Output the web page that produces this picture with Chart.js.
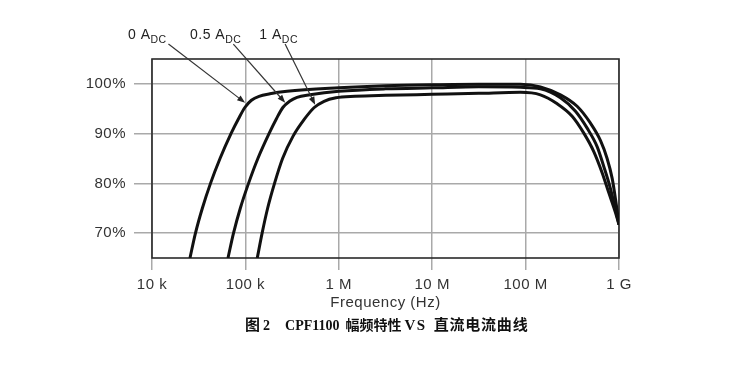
<!DOCTYPE html>
<html>
<head>
<meta charset="utf-8">
<script src="https://cdn.jsdelivr.net/npm/chart.js@4/dist/chart.umd.min.js"></script>
<style>
  html, body { margin: 0; padding: 0; background: #fff; }
  #wrap { position: relative; width: 731px; height: 375px; }
  #c { position: absolute; left: 0; top: 0; }
  #cap { position: absolute; left: 245px; top: 313px; white-space: pre; line-height: 18px; color: #111;
         font: bold 14px "Liberation Serif", "Noto Sans CJK SC", serif; }
  .zh { font-family: "Noto Sans CJK SC", sans-serif; font-weight: bold; font-size: 15px; }
</style>
</head>
<body>
<div id="wrap">
  <canvas id="c" width="731" height="375"></canvas>
  <div id="cap"><span class="zh">图</span><span style="margin-left:3px">2</span><span style="margin-left:15px">CPF1100</span><span class="zh" style="margin-left:6px;font-size:14px">幅频特性</span><span style="margin-left:3px;font-size:15px;letter-spacing:1.5px">VS</span><span class="zh" style="margin-left:7px;letter-spacing:0.8px">直流电流曲线</span></div>
</div>
<script>
// ---- data ----
const xTickValues = [1e4, 1e5, 1e6, 1e7, 1e8, 1e9];
const xTickLabels = ['10 k', '100 k', '1 M', '10 M', '100 M', '1 G'];
const yTickValues = [70, 80, 90, 100];
const seriesNames = ['0 A', '0.5 A', '1 A'];

// 0 A DC
const freq0A = [2.55e4, 2.92e4, 3.46e4, 4.23e4, 5.35e4, 7.01e4, 8.44e4, 9.91e4, 1.16e5, 1.40e5, 1.83e5, 2.79e5,
                1e6, 3.16e6, 1e7, 3.16e7, 8.79e7, 1.44e8, 2.36e8, 3.56e8, 4.95e8, 6.34e8, 7.46e8, 8.45e8, 9.18e8, 1e9];
const gain0A = [65, 70, 75, 80, 85, 90, 93, 95.3, 96.7, 97.5, 98.0, 98.5,
                99.2, 99.6, 99.8, 99.9, 99.9, 99.4, 97.8, 95.5, 92.1, 88.6, 85.0, 81.0, 76.8, 71.7];
// 0.5 A DC
const freq05A = [6.51e4, 7.46e4, 8.82e4, 1.08e5, 1.36e5, 1.79e5, 2.15e5, 2.53e5, 2.97e5, 3.57e5, 4.92e5,
                 1e6, 3.16e6, 1e7, 3.16e7, 8.79e7, 1.44e8, 2.36e8, 3.42e8, 4.56e8, 5.83e8, 6.87e8, 7.98e8, 9.18e8, 1e9];
const gain05A = [65, 70, 75, 80, 85, 90, 93, 95.3, 96.5, 97.3, 97.8,
                 98.5, 99.0, 99.2, 99.4, 99.3, 99.0, 97.2, 94.5, 91.1, 87.4, 83.4, 79.4, 74.7, 71.7];
// 1 A DC
const freq1A = [1.34e5, 1.51e5, 1.73e5, 2.05e5, 2.50e5, 3.24e5, 4.24e5, 5.42e5, 6.95e5, 9.33e5, 1.49e6,
                3.16e6, 1e7, 3.16e7, 8.79e7, 1.44e8, 2.18e8, 3.15e8, 4.20e8, 5.37e8, 6.61e8, 7.78e8, 9.18e8, 1e9];
const gain1A = [65, 70, 75, 80, 85, 89.5, 92.8, 95.2, 96.5, 97.2, 97.5,
                97.7, 97.9, 98.1, 98.3, 97.8, 96.0, 93.5, 90.1, 86.4, 82.1, 78.1, 74.1, 71.7];

// annotation callouts (label anchor, arrow tail, arrow tip) in data units
const labelFreq = [5.53e3, 2.55e4, 1.41e5];
const labelPct  = [109.1, 109.1, 109.1];
const tailFreq  = [1.50e4, 7.43e4, 2.66e5];
const tailPct   = [108.0, 108.0, 108.0];
const tipFreq   = [9.93e4, 2.67e5, 5.58e5];
const tipPct    = [96.2, 96.2, 95.8];

// ---- chart ----
const toPts = (fs, gs) => fs.map((f, i) => ({ x: f, y: gs[i] }));
const FONT = '"Liberation Sans", Arial, sans-serif';
const Y_W = 100, X_H = 60;

const spacingPlugin = {
  id: 'spacing',
  beforeDraw(chart) { chart.ctx.letterSpacing = '0.5px'; }
};

const framePlugin = {
  id: 'frame',
  beforeDatasetsDraw(chart) {
    const { ctx, chartArea: a } = chart;
    ctx.save();
    ctx.strokeStyle = '#2a2a2a';
    ctx.lineWidth = 1.6;
    ctx.strokeRect(a.left, a.top, a.right - a.left, a.bottom - a.top);
    ctx.restore();
  }
};

const calloutPlugin = {
  id: 'callouts',
  afterDatasetsDraw(chart) {
    const { ctx } = chart;
    const xs = chart.scales.x, ys = chart.scales.y;
    ctx.save();
    ctx.letterSpacing = '0.5px';
    for (let i = 0; i < seriesNames.length; i++) {
      const x0 = xs.getPixelForValue(tailFreq[i]), y0 = ys.getPixelForValue(tailPct[i]);
      const x1 = xs.getPixelForValue(tipFreq[i]),  y1 = ys.getPixelForValue(tipPct[i]);
      const ang = Math.atan2(y1 - y0, x1 - x0);
      const L = 8, W = 3;
      ctx.strokeStyle = '#333';
      ctx.fillStyle = '#222';
      ctx.lineWidth = 1.2;
      ctx.beginPath();
      ctx.moveTo(x0, y0);
      ctx.lineTo(x1 - L * Math.cos(ang) * 0.8, y1 - L * Math.sin(ang) * 0.8);
      ctx.stroke();
      ctx.beginPath();
      ctx.moveTo(x1, y1);
      ctx.lineTo(x1 - L * Math.cos(ang) + W * Math.sin(ang), y1 - L * Math.sin(ang) - W * Math.cos(ang));
      ctx.lineTo(x1 - L * Math.cos(ang) - W * Math.sin(ang), y1 - L * Math.sin(ang) + W * Math.cos(ang));
      ctx.closePath();
      ctx.fill();
      // label with subscript
      const lx = xs.getPixelForValue(labelFreq[i]), ly = ys.getPixelForValue(labelPct[i]);
      ctx.textAlign = 'left';
      ctx.textBaseline = 'alphabetic';
      ctx.font = '14px ' + FONT;
      ctx.fillText(seriesNames[i], lx, ly);
      const w = ctx.measureText(seriesNames[i]).width;
      ctx.font = '10.5px ' + FONT;
      ctx.fillText('DC', lx + w, ly + 4);
    }
    ctx.restore();
  }
};

const lineStyle = {
  borderColor: '#111',
  borderWidth: 3,
  pointRadius: 0,
  fill: false,
  cubicInterpolationMode: 'monotone'
};

new Chart(document.getElementById('c'), {
  type: 'line',
  data: {
    datasets: [
      { label: seriesNames[0], data: toPts(freq0A, gain0A), ...lineStyle },
      { label: seriesNames[1], data: toPts(freq05A, gain05A), ...lineStyle },
      { label: seriesNames[2], data: toPts(freq1A, gain1A), ...lineStyle }
    ]
  },
  options: {
    responsive: false,
    devicePixelRatio: 1,
    animation: false,
    layout: { padding: { left: 152 - Y_W, right: 731 - 619, top: 59, bottom: 375 - 258 - X_H } },
    plugins: { legend: { display: false }, tooltip: { enabled: false }, title: { display: false } },
    scales: {
      x: {
        type: 'logarithmic',
        min: 1e4, max: 1e9,
        afterBuildTicks: s => { s.ticks = xTickValues.map(v => ({ value: v })); },
        afterFit: s => { s.height = X_H; },
        ticks: {
          callback: (v, i) => xTickLabels[i],
          color: '#333', font: { family: FONT, size: 15 }, padding: 6,
          maxRotation: 0, autoSkip: false
        },
        grid: { color: '#a9a9a9', lineWidth: 1.5, tickLength: 12, drawTicks: true },
        border: { display: false },
        title: { display: true, text: 'Frequency (Hz)', color: '#333',
                 font: { family: FONT, size: 15 }, padding: { top: 0, bottom: 6 } }
      },
      y: {
        type: 'linear',
        min: 65, max: 105,
        afterBuildTicks: s => { s.ticks = yTickValues.map(v => ({ value: v })); },
        afterFit: s => { s.width = Y_W; },
        ticks: {
          callback: v => v + '%',
          color: '#333', font: { family: FONT, size: 15 }, padding: 8
        },
        grid: { color: '#a9a9a9', lineWidth: 1.5, tickLength: 18, drawTicks: true },
        border: { display: false }
      }
    }
  },
  plugins: [spacingPlugin, framePlugin, calloutPlugin]
});
</script>
</body>
</html>
